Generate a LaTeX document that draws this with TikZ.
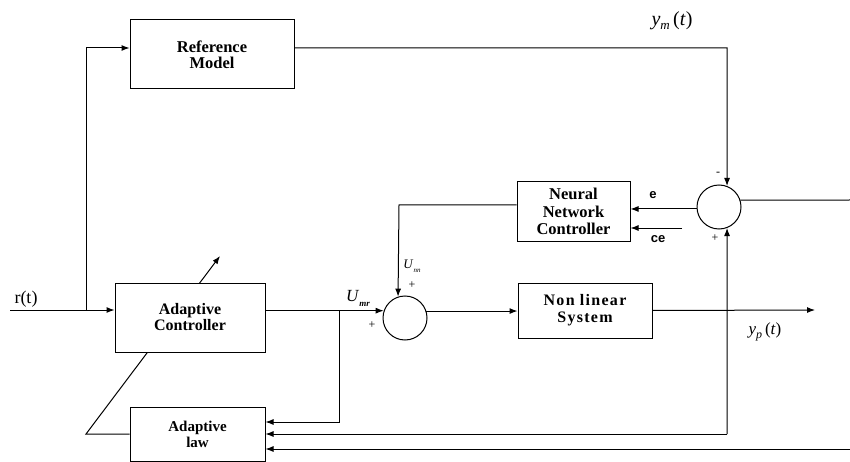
\documentclass[tikz,border=0pt]{standalone}
\usepackage{fontspec}
\setmainfont{Liberation Serif}
\newfontfamily\lblfont{Liberation Sans}
\usetikzlibrary{arrows.meta,calc,backgrounds}
\begin{document}
\begin{tikzpicture}[x=1pt,y=-1pt,
  line width=1pt,
  blk/.style={draw,fill=white,rectangle,inner sep=0pt,align=center,font=\bfseries\fontsize{16}{16}\selectfont},
  sumc/.style={draw,fill=white,circle,minimum size=44pt,inner sep=0pt},
  arr/.style={-{Latex[length=8pt,width=6pt]}},
  lbl/.style={inner sep=0pt},
  sgn/.style={inner sep=0pt,font=\fontsize{12}{12}\selectfont}]
\useasboundingbox (0,0) rectangle (850,462);
% blocks
\node[blk,minimum width=164pt,minimum height=69pt,font=\bfseries\fontsize{16.5}{16}\selectfont] (refm) at (212,54.5) {Reference\\Model};
\node[blk,minimum width=150pt,minimum height=69pt] (actrl) at (190,317.5) {Adaptive\\Controller};
\node[blk,minimum width=135pt,minimum height=54pt,font=\bfseries\fontsize{15}{16}\selectfont] (alaw) at (197.5,434) {Adaptive\\law};
\node[blk,minimum width=113pt,minimum height=59pt,font=\bfseries\fontsize{16.5}{17.5}\selectfont] (nn) at (573.5,211.5) {Neural\\Network\\Controller};
\node[blk,minimum width=134pt,minimum height=55pt,font=\bfseries\fontsize{16}{17}\selectfont\addfontfeature{LetterSpace=8}] (nls) at (585,310.5) {Non linear\\System};
\node[sumc] (s1) at (405,318) {};
\node[sumc] (s2) at (719,207) {};
% coordinates
\coordinate (rin) at (10,310);
\coordinate (j1) at (86,310);
\coordinate (rmin) at (86,48);
\coordinate (ymc) at (727,48);
\coordinate (eout) at (850,200);
\coordinate (ces) at (682,228);
\coordinate (nnc) at (399,205);
\coordinate (j2) at (339,311);
\coordinate (al1) at (339,422);
\coordinate (ypend) at (815,310);
\coordinate (ypc) at (727,434);
\coordinate (rr) at (850,449);
\coordinate (dgl) at (86,434);
\coordinate (dgt) at (220,256);
% connectors
\begin{scope}[on background layer]
\draw[arr,line width=1pt] (alaw.west) -- (dgl) -- (dgt);
\end{scope}
\draw[arr] (rin) -- (actrl.west |- rin);
\draw[arr] (j1) -- (rmin) -- (refm.west |- rmin);
\draw[arr] (refm.east |- rmin) -- (ymc) -- (s2.69);
\draw (s2.18) -- (eout);
\draw[arr] (s2.185) -- (nn.east |- s2.185);
\draw[arr] (ces) -- (nn.east |- ces);
\draw[arr] (nn.west |- nnc) -- (nnc) -- (s1.108);
\draw[arr] (actrl.east |- s1.161) -- (s1.161);
\draw[arr] (j2) -- (al1) -- (alaw.east |- al1);
\draw[arr] (s1.18) -- (nls.west |- s1.18);
\draw[arr] (nls.east) -- (ypend);
\draw[arr] (ypc) -- (s2.291);
\draw[arr] (ypc) -- (alaw.east |- ypc);
\draw[arr] (rr) -- (alaw.east |- rr);
% labels
\node[lbl,font=\fontsize{18}{18}\selectfont] at (26,299) {r(t)};
\node[lbl,font=\fontsize{20}{20}\selectfont] at (672,21) {\textit{y}\raisebox{-4pt}{\fontsize{13}{13}\selectfont\textit{m}}\,(\textit{t})};
\node[lbl,font=\fontsize{17}{17}\selectfont] at (765,332) {\textit{y}\raisebox{-4pt}{\fontsize{12}{12}\selectfont\textit{p}}\,(\textit{t})};
\node[lbl,font=\lblfont\bfseries\fontsize{13}{13}\selectfont] at (653,195) {e};
\node[lbl,font=\lblfont\bfseries\fontsize{13}{13}\selectfont] at (658,239) {ce};
\node[sgn] at (718,174) {-};
\node[sgn] at (715,238) {+};
\node[sgn] at (412,285) {+};
\node[sgn] at (372,325) {+};
\node[lbl,font=\fontsize{13}{13}\selectfont] at (412,266) {\textit{U}\raisebox{-4pt}{\fontsize{7}{7}\selectfont\textit{nn}}};
\node[lbl,font=\fontsize{17}{17}\selectfont] at (358,298) {\textit{U}\raisebox{-5pt}{\fontsize{9}{9}\selectfont\bfseries\textit{mr}}};
\end{tikzpicture}
\end{document}
